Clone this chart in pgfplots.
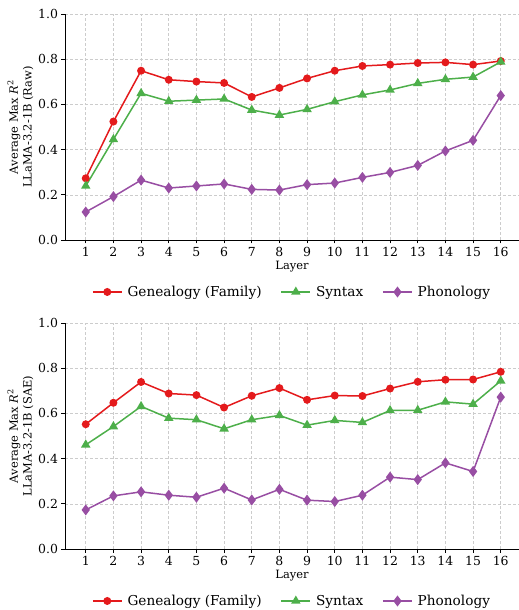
\documentclass[border=0pt]{standalone}
\usepackage{fontspec}
\setmainfont{DejaVu Serif}
\usepackage{pgfplots}
\pgfplotsset{compat=1.18}
\definecolor{cred}{HTML}{E41A1C}
\definecolor{cgreen}{HTML}{4DAF4A}
\definecolor{cpurple}{HTML}{984EA3}
\pgfplotsset{
 myaxis/.style={
  scale only axis, width=454bp, height=226bp,
  xmin=0.25, xmax=16.66, ymin=0, ymax=1,
  xtick={1,2,...,16}, ytick={0,0.2,0.4,0.6,0.8,1.0},
  yticklabel style={/pgf/number format/fixed, /pgf/number format/fixed zerofill, /pgf/number format/precision=1},
  /pgf/number format/assume math mode=true,
  axis x line*=bottom, axis y line*=left,
  tick align=outside, major tick length=3.5bp,
  tick style={black, line width=0.8bp},
  grid=major, grid style={densely dashed, black!20, line width=0.5bp},
  tick label style={font=\fontsize{12.5}{14}\selectfont},
  label style={font=\fontsize{11.5}{13.8}\selectfont},
  xlabel={Layer},
  xlabel style={yshift=2bp},
  ylabel style={align=center, yshift=-2bp},
  axis line style={line width=0.8bp},
  legend columns=3,
  legend style={draw=none, fill=none, font=\fontsize{13.7}{15}\selectfont,
    at={(0.5,-0.23)}, anchor=center,
    /tikz/every even column/.append style={column sep=17bp},
    /tikz/every odd column/.append style={column sep=3bp}},
  legend image code/.code={\draw[mark repeat=2,mark phase=2,##1] plot coordinates {(0bp,0bp)(14.5bp,0bp)(29bp,0bp)};},
  every axis plot/.append style={line width=1.5bp},
 },
 gen/.style={cred, mark=*, mark size=3.2bp, mark options={solid}},
 syn/.style={cgreen, mark=triangle*, mark size=4bp, mark options={solid}},
 pho/.style={cpurple, mark=diamond*, mark size=4.3bp, mark options={solid}},
}
\begin{document}
\begin{tikzpicture}
\begin{axis}[myaxis, at={(65bp,370bp)}, anchor=south west,
  ylabel={Average Max \textit{R}\textsuperscript{2}\\LLaMA-3.2-1B (Raw)}]
\addplot[gen] coordinates {(1,0.273)(2,0.524)(3,0.749)(4,0.709)(5,0.701)(6,0.695)(7,0.633)(8,0.673)(9,0.715)(10,0.749)(11,0.770)(12,0.776)(13,0.783)(14,0.786)(15,0.776)(16,0.792)};
\addlegendentry{Genealogy (Family)}
\addplot[syn] coordinates {(1,0.239)(2,0.445)(3,0.649)(4,0.614)(5,0.619)(6,0.624)(7,0.575)(8,0.553)(9,0.578)(10,0.612)(11,0.642)(12,0.664)(13,0.693)(14,0.711)(15,0.721)(16,0.788)};
\addlegendentry{Syntax}
\addplot[pho] coordinates {(1,0.124)(2,0.192)(3,0.265)(4,0.230)(5,0.239)(6,0.248)(7,0.224)(8,0.221)(9,0.245)(10,0.252)(11,0.277)(12,0.299)(13,0.330)(14,0.394)(15,0.441)(16,0.639)};
\addlegendentry{Phonology}
\end{axis}
\begin{axis}[myaxis, at={(65bp,61bp)}, anchor=south west,
  ylabel={Average Max \textit{R}\textsuperscript{2}\\LLaMA-3.2-1B (SAE)}]
\addplot[gen] coordinates {(1,0.552)(2,0.647)(3,0.739)(4,0.688)(5,0.681)(6,0.626)(7,0.678)(8,0.712)(9,0.660)(10,0.679)(11,0.677)(12,0.710)(13,0.740)(14,0.749)(15,0.750)(16,0.784)};
\addlegendentry{Genealogy (Family)}
\addplot[syn] coordinates {(1,0.461)(2,0.542)(3,0.631)(4,0.579)(5,0.572)(6,0.532)(7,0.572)(8,0.591)(9,0.548)(10,0.569)(11,0.560)(12,0.613)(13,0.614)(14,0.651)(15,0.641)(16,0.744)};
\addlegendentry{Syntax}
\addplot[pho] coordinates {(1,0.173)(2,0.235)(3,0.253)(4,0.238)(5,0.229)(6,0.269)(7,0.217)(8,0.264)(9,0.216)(10,0.210)(11,0.238)(12,0.318)(13,0.307)(14,0.381)(15,0.343)(16,0.672)};
\addlegendentry{Phonology}
\end{axis}
\pgfresetboundingbox
\path (0,0) rectangle (519bp,610bp);
\end{tikzpicture}
\end{document}
